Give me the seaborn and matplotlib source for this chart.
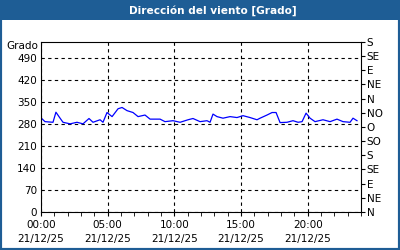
import matplotlib
matplotlib.use("Agg")
import matplotlib.pyplot as plt
import matplotlib.patches as mpatches
from matplotlib.ticker import MultipleLocator, FixedLocator
import seaborn as sns
import pandas as pd

hours = [0.0, 0.3, 0.9, 1.12, 1.43, 1.65, 2.18, 2.7, 3.15, 3.6, 3.9, 4.43, 4.65, 4.95,
         5.33, 5.78, 6.08, 6.45, 6.9, 7.28, 7.8, 8.18, 8.93, 9.3, 9.9, 10.43, 11.03,
         11.4, 11.93, 12.45, 12.68, 12.9, 13.2, 13.65, 14.18, 14.7, 15.15, 15.68,
         16.2, 16.43, 16.95, 17.33, 17.63, 17.93, 18.45, 18.9, 19.28, 19.58, 19.88,
         20.18, 20.55, 21.15, 21.68, 22.2, 22.65, 23.18, 23.4, 23.7]
direction = [299, 287, 285, 317, 298, 285, 280, 285, 280, 297, 285, 293, 285, 316,
             303, 328, 332, 322, 316, 303, 308, 295, 295, 287, 290, 285, 293,
             297, 287, 290, 285, 311, 303, 298, 303, 300, 306, 300,
             293, 298, 308, 316, 316, 284, 285, 290, 285, 287, 314,
             298, 287, 293, 287, 295, 287, 285, 298, 290]

left_ticks = [0, 70, 140, 210, 280, 350, 420, 490]
right_ticks = [0, 45, 90, 135, 180, 225, 270, 315, 360, 405, 450, 495, 540]
right_labels = ["N", "NE", "E", "SE", "S", "SO", "O", "NO", "N", "NE", "E", "SE", "S"]
x_ticks = [0, 5, 10, 15, 20]
x_labels = ["00:00\n21/12/25", "05:00\n21/12/25", "10:00\n21/12/25",
            "15:00\n21/12/25", "20:00\n21/12/25"]
title = "Dirección del viento [Grado]"
ylabel = "Grado"

plt.rcParams['font.family'] = ['DejaVu Sans']
BLUE = "#1e5d95"

fig = plt.figure(figsize=(4, 2.5), dpi=100)
fig.patch.set_facecolor("white")

# border and title bar
fig.add_artist(mpatches.Rectangle((0, 0), 1, 1, transform=fig.transFigure,
                                  facecolor="none", edgecolor=BLUE, linewidth=3))
fig.add_artist(mpatches.Rectangle((0, 1 - 20 / 250), 1, 20 / 250, transform=fig.transFigure,
                                  facecolor=BLUE, edgecolor="none"))
fig.text(0.532, 1 - 10.5 / 250, title, color="white", fontsize=7.6, fontweight="bold",
         ha="center", va="center")

ax = fig.add_axes([41 / 400, 38 / 250, 320 / 400, 170 / 250])
df = pd.DataFrame({"h": hours, "v": direction})
sns.lineplot(data=df, x="h", y="v", ax=ax, color="#0000ff", linewidth=0.9)
ax.set_xlim(0, 24)
ax.set_ylim(0, 540)
ax.set_xlabel("")
ax.set_ylabel("")
ax.yaxis.set_major_locator(FixedLocator(left_ticks))
ax.set_yticklabels([str(t) for t in left_ticks])
ax.xaxis.set_major_locator(FixedLocator(x_ticks))
ax.set_xticklabels(x_labels, linespacing=1.5)
ax.xaxis.set_minor_locator(MultipleLocator(1))
ax.grid(True, which="major", color="black", linestyle=(0, (3, 3)), linewidth=0.8)
ax.tick_params(axis="y", which="major", length=0, pad=3, labelsize=7.5, colors="black")
ax.tick_params(axis="x", which="major", length=3, pad=3, labelsize=7.5, direction="out")
ax.tick_params(axis="x", which="minor", length=3, direction="out")
for s in ax.spines.values():
    s.set_color("black")
    s.set_linewidth(0.8)

ax2 = ax.twinx()
ax2.set_ylim(0, 540)
ax2.yaxis.set_major_locator(FixedLocator(right_ticks))
ax2.set_yticklabels(right_labels)
ax2.tick_params(axis="y", length=3, pad=1, labelsize=7.5, direction="out")
for s in ax2.spines.values():
    s.set_visible(False)

fig.text(22 / 400, 1 - 46 / 250, ylabel, fontsize=7.5, ha="center", va="center")

fig.savefig("out.png", dpi=100)
